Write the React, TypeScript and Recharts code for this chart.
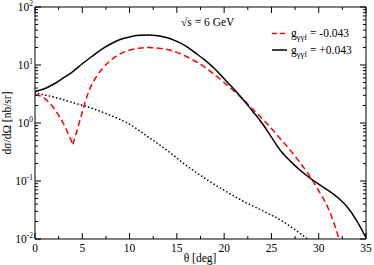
import React from 'react';
import { LineChart, Line, XAxis, YAxis, Customized } from 'recharts';

const FONT = '"Liberation Serif", "DejaVu Serif", serif';

// x ticks (degrees)
const xTickValues = [0, 2.5, 5, 7.5, 10, 12.5, 15, 17.5, 20, 22.5, 25, 27.5, 30, 32.5, 35];
const xMajorLabels = [0, 5, 10, 15, 20, 25, 30, 35];

// y ticks (log decades)
const yExponents = [-2, -1, 0, 1, 2];
const yMinorMultipliers = [2, 3, 4, 5, 6, 7, 8, 9];

// g = +0.043 (solid black)
const solidTheta = [0, 1, 2, 3, 4, 5, 6, 7, 8, 9, 10, 11, 12, 13, 14, 15, 16, 17, 18, 19, 20, 21, 22, 23, 24, 25, 26, 27, 28, 29, 30, 31, 32, 33, 34, 35];
const solidValues = [3.5, 3.9, 4.7, 6.0, 7.7, 10.5, 14, 18.5, 23, 27.5, 30.5, 32.5, 33, 32, 29.5, 25.5, 21, 16, 12, 8.6, 5.8, 3.9, 2.55, 1.6, 1.0, 0.57, 0.33, 0.22, 0.155, 0.115, 0.088, 0.069, 0.052, 0.036, 0.021, 0.0105];

// g = -0.043 (red dashed), left branch down to the dip and right branch after it
const dashedLeftTheta = [0, 0.5, 1, 1.5, 2, 2.5, 3, 3.5, 4];
const dashedLeftValues = [3.1, 2.95, 2.65, 2.25, 1.8, 1.35, 0.98, 0.66, 0.43];
const dashedRightTheta = [4, 4.5, 5, 5.5, 6, 6.5, 7, 8, 9, 10, 11, 12, 13, 14, 15, 16, 17, 18, 19, 20, 21, 22, 23, 24, 25, 26, 27, 28, 29, 30, 31, 32, 32.5];
const dashedRightValues = [0.43, 0.8, 1.55, 2.9, 4.6, 6.3, 8.2, 12, 15.5, 18, 19.5, 20, 19.5, 18.5, 16.5, 14, 11.5, 9, 6.8, 5, 3.6, 2.55, 1.75, 1.2, 0.8, 0.52, 0.34, 0.21, 0.125, 0.068, 0.034, 0.012, 0.006];

// dotted black
const dottedTheta = [0, 2, 4, 6, 8, 10, 12, 14, 16, 18, 20, 22, 24, 26, 28, 29];
const dottedValues = [3.3, 2.8, 2.25, 1.8, 1.35, 0.95, 0.57, 0.335, 0.185, 0.11, 0.069, 0.045, 0.031, 0.021, 0.0126, 0.0095];

const toRows = (xs: number[], ys: number[]) => xs.map((x, i) => ({ x, y: ys[i] }));

const solidData = toRows(solidTheta, solidValues);
const dashedLeftData = toRows(dashedLeftTheta, dashedLeftValues);
const dashedRightData = toRows(dashedRightTheta, dashedRightValues);
const dottedData = toRows(dottedTheta, dottedValues);

const yTickValues: number[] = [];
yExponents.forEach((e) => {
  const base = Math.pow(10, e);
  yTickValues.push(base);
  if (e < 2) yMinorMultipliers.forEach((m) => yTickValues.push(Number((m * base).toPrecision(6))));
});
const isMajorY = (v: number) => Math.abs(Math.log10(v) - Math.round(Math.log10(v))) < 1e-6;

const FS = 11.5;

function BottomTick(props: any) {
  const { x, y, payload } = props;
  const v = payload.value;
  const major = xMajorLabels.includes(v);
  return (
    <g>
      <line x1={x} x2={x} y1={y} y2={y - (major ? 6 : 3)} stroke="#000" strokeWidth={1} />
      {major && (
        <text x={x} y={y + 13} textAnchor="middle" fontFamily={FONT} fontSize={FS} fill="#000">
          {v}
        </text>
      )}
    </g>
  );
}

function TopTick(props: any) {
  const { x, y, payload } = props;
  const major = xMajorLabels.includes(payload.value);
  return <line x1={x} x2={x} y1={y} y2={y + (major ? 6 : 3)} stroke="#000" strokeWidth={1} />;
}

function LeftTick(props: any) {
  const { x, y, payload } = props;
  const v = payload.value;
  const major = isMajorY(v);
  const e = Math.round(Math.log10(v));
  return (
    <g>
      <line x1={x} x2={x + (major ? 6 : 3)} y1={y} y2={y} stroke="#000" strokeWidth={1} />
      {major && (
        <text x={x - 2} y={y + 4} textAnchor="end" fontFamily={FONT} fontSize={FS} fill="#000">
          10
          <tspan dy={-5} fontSize={7.5}>{e}</tspan>
        </text>
      )}
    </g>
  );
}

function RightTick(props: any) {
  const { x, y, payload } = props;
  const major = isMajorY(payload.value);
  return <line x1={x} x2={x - (major ? 6 : 3)} y1={y} y2={y} stroke="#000" strokeWidth={1} />;
}

function Annotations() {
  return (
    <g fontFamily={FONT} fill="#000">
      <text x={11} y={123} fontSize={FS} textAnchor="middle" transform="rotate(-90 11 123)">
        dσ/dΩ [nb/sr]
      </text>
      <text x={200} y={262} fontSize={FS} textAnchor="middle">
        θ [deg]
      </text>
      <text x={181} y={26} fontSize={FS}>
        √s = 6 GeV
      </text>
      <line x1={272} x2={287} y1={33.5} y2={33.5} stroke="#ff0000" strokeWidth={1.5} strokeDasharray="5 3" />
      <text x={291} y={37} fontSize={FS}>
        g<tspan dy={3} fontSize={8.5}>γγf</tspan>
        <tspan dy={-3}> = -0.043</tspan>
      </text>
      <line x1={272} x2={287} y1={50} y2={50} stroke="#000" strokeWidth={1.5} />
      <text x={291} y={53.5} fontSize={FS}>
        g<tspan dy={3} fontSize={8.5}>γγf</tspan>
        <tspan dy={-3}> = +0.043</tspan>
      </text>
    </g>
  );
}

export default function App() {
  return (
    <div style={{ position: 'absolute', left: 0, top: 0, background: '#fff' }}>
      <LineChart width={374} height={265} margin={{ top: 6, right: 0, bottom: 0, left: 0 }}>
        <XAxis
          dataKey="x"
          type="number"
          domain={[0, 35]}
          ticks={xTickValues}
          interval={0}
          allowDataOverflow
          tickSize={0}
          tickMargin={0}
          tickLine={false}
          axisLine={{ stroke: '#000' }}
          tick={(p: any) => <BottomTick {...p} />}
          height={26}
        />
        <XAxis
          xAxisId="top"
          orientation="top"
          dataKey="x"
          type="number"
          domain={[0, 35]}
          ticks={xTickValues}
          interval={0}
          allowDataOverflow
          tickSize={0}
          tickMargin={0}
          tickLine={false}
          axisLine={{ stroke: '#000' }}
          tick={(p: any) => <TopTick {...p} />}
          height={1}
        />
        <YAxis
          type="number"
          scale="log"
          domain={[0.01, 100]}
          ticks={yTickValues}
          interval={0}
          allowDataOverflow
          tickSize={0}
          tickMargin={0}
          tickLine={false}
          axisLine={{ stroke: '#000' }}
          tick={(p: any) => <LeftTick {...p} />}
          width={35}
        />
        <YAxis
          yAxisId="right"
          orientation="right"
          type="number"
          scale="log"
          domain={[0.01, 100]}
          ticks={yTickValues}
          interval={0}
          allowDataOverflow
          tickSize={0}
          tickMargin={0}
          tickLine={false}
          axisLine={{ stroke: '#000' }}
          tick={(p: any) => <RightTick {...p} />}
          width={8}
        />
        <Line data={dottedData} dataKey="y" type="monotone" stroke="#000" strokeWidth={1.6} strokeDasharray="0.1 3.6" strokeLinecap="round" dot={false} isAnimationActive={false} />
        <Line data={dashedLeftData} dataKey="y" type="monotone" stroke="#ff0000" strokeWidth={1.5} strokeDasharray="6 3.5" dot={false} isAnimationActive={false} />
        <Line data={dashedRightData} dataKey="y" type="monotone" stroke="#ff0000" strokeWidth={1.5} strokeDasharray="6 3.5" dot={false} isAnimationActive={false} />
        <Line data={solidData} dataKey="y" type="monotone" stroke="#000" strokeWidth={1.5} dot={false} isAnimationActive={false} />
        <Customized component={<Annotations />} />
      </LineChart>
    </div>
  );
}
